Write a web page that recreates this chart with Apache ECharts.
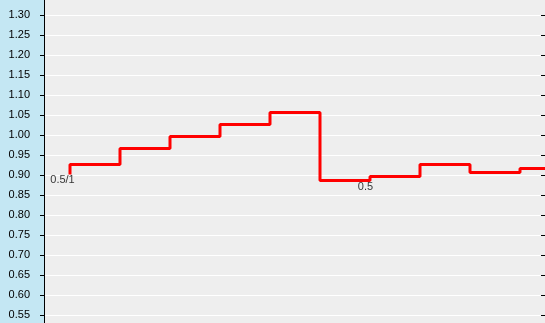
<!DOCTYPE html>
<html>
<head>
<meta charset="utf-8">
<script src="https://cdn.jsdelivr.net/npm/echarts@6/dist/echarts.min.js"></script>
<style>
html,body{margin:0;padding:0;background:#eeeeee;overflow:hidden;width:545px;height:323px;}
#chart{position:absolute;left:0;top:-5px;width:545px;height:342px;}
</style>
</head>
<body>
<div id="chart"></div>
<script>
// ---- data ----
const stepX = [0, 0, 1, 2, 3, 4, 5, 6, 7, 8, 9, 10];
const stepY = [0.905, 0.93, 0.97, 1.00, 1.03, 1.06, 0.89, 0.90, 0.93, 0.91, 0.92, 0.92];
const annotText = ['0.5/1', '0.5'];
const annotX = [0, 6];
const annotY = [0.905, 0.89];
const annotOffset = [[-7.5, 5], [-4.5, 6.5]];
const yMin = 0.50, yMax = 1.35, yStep = 0.05;
const yLabelMin = 0.55, yLabelMax = 1.30;

const chart = echarts.init(document.getElementById('chart'), null, {renderer: 'canvas'});
const font = '"Liberation Sans", Arial, sans-serif';

const lineData = stepX.map((x, i) => [x, stepY[i]]);
const annotData = annotText.map((t, i) => ({
  value: [annotX[i], annotY[i]],
  label: {formatter: t, offset: annotOffset[i]}
}));

const option = {
  backgroundColor: '#eeeeee',
  animation: false,
  graphic: [{
    type: 'rect', left: 0, top: 0, z: -10,
    shape: {width: 44, height: 342},
    style: {fill: '#c4e7f3'}
  }],
  grid: [
    {left: 44, right: 0, top: 0, bottom: 2, containLabel: false},
    {left: 44, right: 0, top: 1.5, bottom: 0.5, containLabel: false}
  ],
  xAxis: [
    {gridIndex: 0, type: 'value', min: -0.52, max: 9.5, show: false},
    {gridIndex: 1, type: 'value', min: -0.52, max: 9.5, show: false}
  ],
  yAxis: [
    {
      gridIndex: 0, type: 'value', min: yMin, max: yMax, interval: yStep,
      axisLine: {show: true, onZero: false, lineStyle: {color: '#000', width: 1}},
      axisTick: {show: true, inside: false, length: 4, lineStyle: {color: '#000'}},
      axisLabel: {
        show: true, margin: 14, color: '#000', fontFamily: font, fontSize: 11,
        padding: [0, 0, 5, 0],
        formatter: v => (v < yLabelMin - 1e-6 || v > yLabelMax + 1e-6) ? '' : v.toFixed(2)
      },
      splitLine: {show: true, lineStyle: {color: '#ffffff', width: 1}}
    },
    {
      gridIndex: 0, type: 'value', min: yMin, max: yMax, interval: yStep,
      axisLine: {show: false, onZero: false},
      axisTick: {show: true, inside: true, length: 4, lineStyle: {color: '#000'}},
      axisLabel: {show: false},
      splitLine: {show: false}
    },
    {gridIndex: 1, type: 'value', min: yMin, max: yMax, show: false, splitLine: {show: false}}
  ],
  series: [
    {
      type: 'line', xAxisIndex: 1, yAxisIndex: 2,
      data: lineData, step: 'end', showSymbol: false, symbol: 'none',
      lineStyle: {color: '#ff0000', width: 3}, z: 5
    },
    {
      type: 'scatter', xAxisIndex: 1, yAxisIndex: 2,
      data: annotData, symbolSize: 1, itemStyle: {color: 'rgba(0,0,0,0)'},
      label: {show: true, position: 'inside', color: '#000', fontFamily: font, fontSize: 11},
      z: 6
    }
  ]
};
chart.setOption(option);
</script>
</body>
</html>
